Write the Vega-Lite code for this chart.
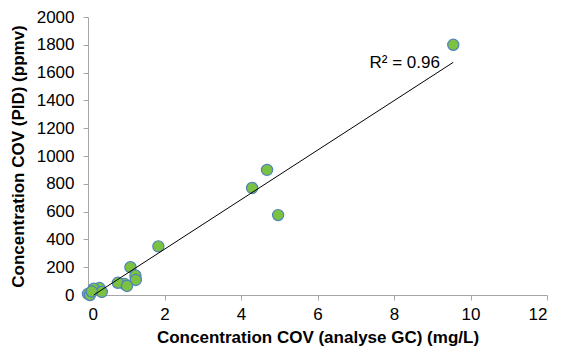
{
  "$schema": "https://vega.github.io/schema/vega-lite/v6.json",
  "autosize": {"type": "none"},
  "width": 459,
  "height": 278,
  "padding": {"left": 88, "top": 17, "right": 24, "bottom": 52},
  "background": "white",
  "config": {
    "view": {"stroke": null},
    "font": "Liberation Sans",
    "axis": {"grid": false, "domainColor": "#a6a6a6", "tickColor": "#a6a6a6", "labelFont": "Liberation Sans", "labelFontSize": 17, "labelColor": "#000", "titleFont": "Liberation Sans", "titleFontSize": 17, "titleFontWeight": "bold", "titleColor": "#000", "tickSize": 5}
  },
  "datasets": {
    "pts": [
      {"gc": 9.55, "pid": 1800},
      {"gc": 4.68, "pid": 900},
      {"gc": 4.29, "pid": 770},
      {"gc": 4.97, "pid": 575},
      {"gc": 1.84, "pid": 350},
      {"gc": 1.11, "pid": 200},
      {"gc": 1.24, "pid": 140},
      {"gc": 1.25, "pid": 108},
      {"gc": 0.95, "pid": 80},
      {"gc": 0.78, "pid": 88},
      {"gc": 1.02, "pid": 65},
      {"gc": 0.3, "pid": 50},
      {"gc": 0.15, "pid": 45},
      {"gc": 0.36, "pid": 22},
      {"gc": 0.0, "pid": 8},
      {"gc": 0.05, "pid": 0},
      {"gc": 0.1, "pid": 25}
    ],
    "trend": [
      {"gc": 0.15, "pid": 0},
      {"gc": 9.55, "pid": 1674}
    ],
    "label": [
      {"gc": 9.2, "pid": 1633, "t": "R² = 0.96"}
    ]
  },
  "encoding": {
    "x": {"field": "gc", "type": "quantitative", "scale": {"domain": [0, 12], "nice": false}, "axis": {"values": [0,2,4,6,8,10,12], "format": "d", "labelOverlap": false, "title": "Concentration COV (analyse GC) (mg/L)", "labelPadding": 6, "titlePadding": 7}},
    "y": {"field": "pid", "type": "quantitative", "scale": {"domain": [0, 2000], "nice": false}, "axis": {"values": [0,200,400,600,800,1000,1200,1400,1600,1800,2000], "format": "d", "labelOverlap": false, "title": "Concentration COV (PID) (ppmv)", "labelPadding": 9, "titlePadding": 9}}
  },
  "layer": [
    {
      "data": {"name": "pts"},
      "mark": {"type": "point", "shape": "circle", "filled": true, "fill": "#7cc242", "stroke": "#4f81bd", "strokeWidth": 1.2, "size": 125, "opacity": 1}
    },
    {
      "data": {"name": "trend"},
      "mark": {"type": "line", "color": "#000", "strokeWidth": 1}
    },
    {
      "data": {"name": "label"},
      "mark": {"type": "text", "fontSize": 17, "font": "Liberation Sans", "color": "#000", "align": "right", "baseline": "alphabetic"},
      "encoding": {
        "text": {"field": "t"}
      }
    }
  ]
}
